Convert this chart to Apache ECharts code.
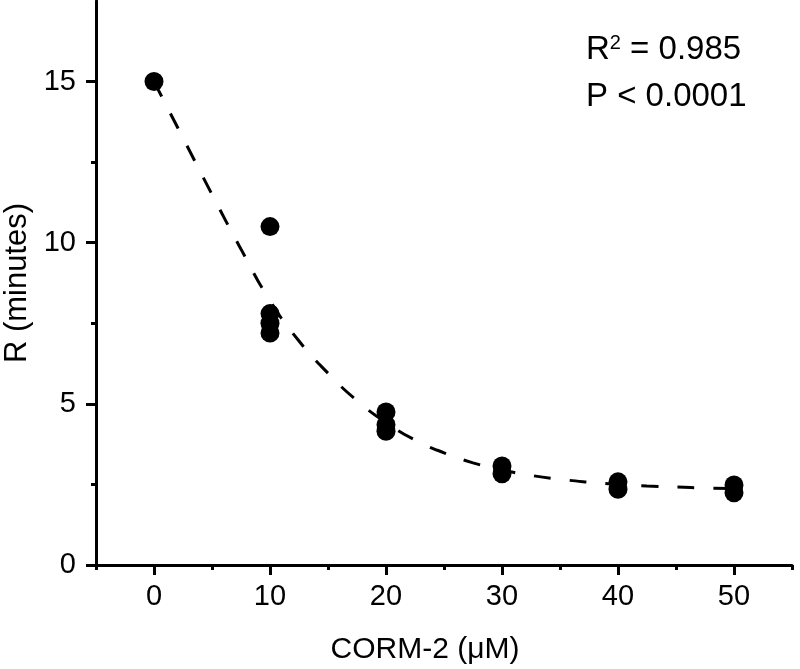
<!DOCTYPE html>
<html>
<head>
<meta charset="utf-8">
<script src="https://cdn.jsdelivr.net/npm/echarts@6/dist/echarts.min.js"></script>
<style>
  html, body { margin: 0; padding: 0; background: #fff; }
  #main { width: 800px; height: 669px; }
</style>
</head>
<body>
<div id="main"></div>
<script>
var concX = [0, 10, 10, 10, 10, 20, 20, 20, 30, 30, 40, 40, 50, 50];
var rMinutes = [15, 10.5, 7.8, 7.5, 7.2, 4.75, 4.35, 4.15, 3.07, 2.83, 2.58, 2.35, 2.48, 2.24];

// fitted curve
var fitX = [0, 2.5, 5, 7.5, 10, 12.5, 15, 17.5, 20, 22.5, 25, 27.5, 30, 32.5, 35, 37.5, 40, 42.5, 45, 47.5, 50];
var fitY = [15, 13.25, 11.5, 9.8, 8.2, 6.95, 5.95, 5.1, 4.42, 3.88, 3.48, 3.17, 2.95, 2.78, 2.66, 2.57, 2.5, 2.45, 2.42, 2.39, 2.37];

var xMajor = [0, 10, 20, 30, 40, 50];
var xMinor = [-5, 5, 15, 25, 35, 45, 55];
var yMajor = [0, 5, 10, 15];
var yMinor = [2.5, 7.5, 12.5];

var fontName = 'Liberation Sans, Arial, sans-serif';

var myChart = echarts.init(document.getElementById('main'));

var option = {
    animation: false,
    grid: { left: 96, right: 8, top: 1, bottom: 104, containLabel: false, outerBoundsMode: 'none' },
    xAxis: [{
        type: 'value',
        min: -5,
        max: 55,
        interval: 5,
        name: 'CORM-2 (μM)',
        nameLocation: 'middle',
        nameGap: 70,
        nameTextStyle: { fontFamily: fontName, fontSize: 30, color: '#000', padding: [0, 38, 0, 0] },
        axisLine: { onZero: false, lineStyle: { color: '#000', width: 3 } },
        axisTick: { inside: false, length: 10, lineStyle: { color: '#000', width: 3 }, customValues: xMajor },
        axisLabel: { fontFamily: fontName, fontSize: 29, color: '#000', margin: 17, customValues: xMajor },
        splitLine: { show: false }
    }, {
        type: 'value',
        min: -5,
        max: 55,
        interval: 5,
        position: 'bottom',
        axisLine: { show: false, onZero: false },
        axisTick: { length: 5, lineStyle: { color: '#000', width: 3 }, customValues: xMinor },
        axisLabel: { show: false },
        splitLine: { show: false }
    }],
    yAxis: [{
        type: 'value',
        min: 0,
        max: 17.5,
        interval: 2.5,
        name: 'R (minutes)',
        nameLocation: 'middle',
        nameGap: 62,
        nameTextStyle: { fontFamily: fontName, fontSize: 31, color: '#000' },
        axisLine: { show: true, onZero: false, lineStyle: { color: '#000', width: 3 } },
        axisTick: { show: true, length: 10, lineStyle: { color: '#000', width: 3 }, customValues: yMajor },
        axisLabel: { fontFamily: fontName, fontSize: 29, color: '#000', margin: 20, customValues: yMajor },
        splitLine: { show: false }
    }, {
        type: 'value',
        min: 0,
        max: 17.5,
        interval: 2.5,
        position: 'left',
        axisLine: { show: false, onZero: false },
        axisTick: { show: true, length: 5, lineStyle: { color: '#000', width: 3 }, customValues: yMinor },
        axisLabel: { show: false },
        splitLine: { show: false }
    }],
    series: [{
        type: 'line',
        data: fitX.map(function (x, i) { return [x, fitY[i]]; }),
        smooth: true,
        showSymbol: false,
        symbol: 'none',
        lineStyle: { color: '#000', width: 3, type: [17, 19] },
        z: 2
    }, {
        type: 'scatter',
        data: concX.map(function (x, i) { return [x, rMinutes[i]]; }),
        symbol: 'circle',
        symbolSize: 19,
        itemStyle: { color: '#000', opacity: 1 },
        z: 3
    }],
    graphic: [{
        type: 'text',
        left: 586,
        top: 33,
        style: {
            text: '{b|R}{s|2}{b| = 0.985}',
            rich: {
                b: { fontFamily: fontName, fontSize: 33, fill: '#000' },
                s: { fontFamily: fontName, fontSize: 20, fill: '#000', verticalAlign: 'top', padding: [0, 0, 13, 0] }
            }
        }
    }, {
        type: 'text',
        left: 586,
        top: 80,
        style: { text: 'P < 0.0001', fontFamily: fontName, fontSize: 33, fill: '#000' }
    }]
};

myChart.setOption(option);
</script>
</body>
</html>
